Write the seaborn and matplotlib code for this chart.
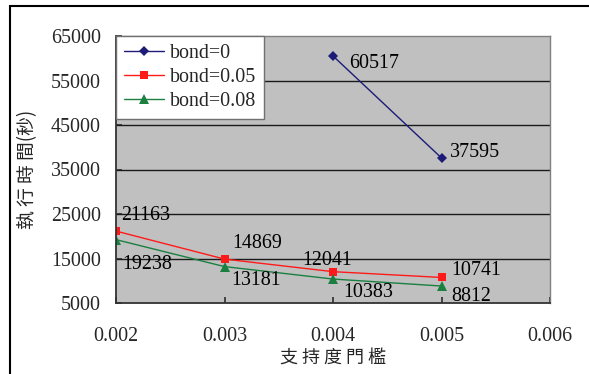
import matplotlib
matplotlib.use("Agg")
import matplotlib.pyplot as plt
import seaborn as sns
import pandas as pd
from matplotlib.patches import Rectangle

support = [0.002, 0.003, 0.004, 0.005]
bond0 = [None, None, 60517, 37595]
bond005 = [21163, 14869, 12041, 10741]
bond008 = [19238, 13181, 10383, 8812]
series_names = ["bond=0", "bond=0.05", "bond=0.08"]
xticks = [0.002, 0.003, 0.004, 0.005, 0.006]
yticks = [5000, 15000, 25000, 35000, 45000, 55000, 65000]

rows = []
for name, vals in zip(series_names, [bond0, bond005, bond008]):
    for x, v in zip(support, vals):
        if v is not None:
            rows.append({"support": x, "time": v, "series": name})
df = pd.DataFrame(rows)

sns.set_theme(style="white")
plt.rcParams["font.family"] = ["Liberation Serif", "Noto Sans CJK TC"]

FS = 14.4
fig = plt.figure(figsize=(5.89, 3.74), dpi=100)
ax = fig.add_axes([116/589, 1-303/374, (550-116)/589, (303-36)/374])

colors = {"bond=0": "#1c1c78", "bond=0.05": "#ff1a1a", "bond=0.08": "#1a8040"}
markers = {"bond=0": "D", "bond=0.05": "s", "bond=0.08": "^"}
sizes = {"bond=0": 5, "bond=0.05": 6, "bond=0.08": 6.5}
for name in series_names:
    sub = df[df.series == name]
    sns.lineplot(data=sub, x="support", y="time", ax=ax, color=colors[name],
                 marker=markers[name], markersize=sizes[name], markeredgewidth=0,
                 linewidth=1.0, label=name)

ax.set_facecolor("#c0c0c0")
ax.set_xlim(0.002, 0.006)
ax.set_ylim(5000, 65000)
ax.set_xticks(xticks)
ax.set_xticklabels([f"{t:.3f}" for t in xticks])
ax.set_yticks(yticks)
ax.set_yticklabels([str(t) for t in yticks])
for y in yticks[1:-1]:
    ax.axhline(y, color="#1a1a1a", lw=1.0, zorder=1)
ax.tick_params(axis="both", labelsize=FS, length=4, direction="in", color="#333333")
ax.tick_params(axis="y", pad=11)
ax.tick_params(axis="x", pad=17)
ax.tick_params(left=True, bottom=True)
for side in ["left", "bottom"]:
    ax.spines[side].set_color("#333333")
    ax.spines[side].set_linewidth(1.3)
for side in ["top", "right"]:
    ax.spines[side].set_color("#808080")
    ax.spines[side].set_linewidth(1.0)

ax.set_xlabel("支 持 度 門 檻", fontsize=13, family=["Noto Sans CJK TC"], labelpad=3)
ax.set_ylabel("執 行 時 間(秒)", fontsize=13.5, family=["Noto Sans CJK TC"], labelpad=9)

ann = [
    (0.004, 60517, 16, -8),
    (0.005, 37595, 8, 5),
    (0.002, 21163, 5, 16),
    (0.002, 19238, 6, -25),
    (0.003, 14869, 8, 16),
    (0.003, 13181, 7, -14),
    (0.004, 12041, -31, 11),
    (0.004, 10383, 10, -13),
    (0.005, 10741, 10, 7),
    (0.005, 8812, 10, -10),
]
for x, y, dx, dy in ann:
    ax.annotate(str(y), (x, y), xytext=(dx, dy), textcoords="offset pixels",
                fontsize=FS, ha="left", va="center", color="black")

leg = ax.legend(loc="upper left", fontsize=FS, frameon=True, fancybox=False,
                borderaxespad=0, handlelength=2.0, labelspacing=0.25,
                borderpad=0.4, handletextpad=0.3, framealpha=1)
leg.get_frame().set_edgecolor("#707070")
leg.get_frame().set_facecolor("white")
leg.get_frame().set_linewidth(1.0)

fig.patches.append(Rectangle((10/589, -0.1), 1.2, 1 - 6/374 + 0.1, transform=fig.transFigure,
                             fill=False, edgecolor="black", linewidth=1.5))

fig.savefig("out.png", dpi=100, facecolor="white")
